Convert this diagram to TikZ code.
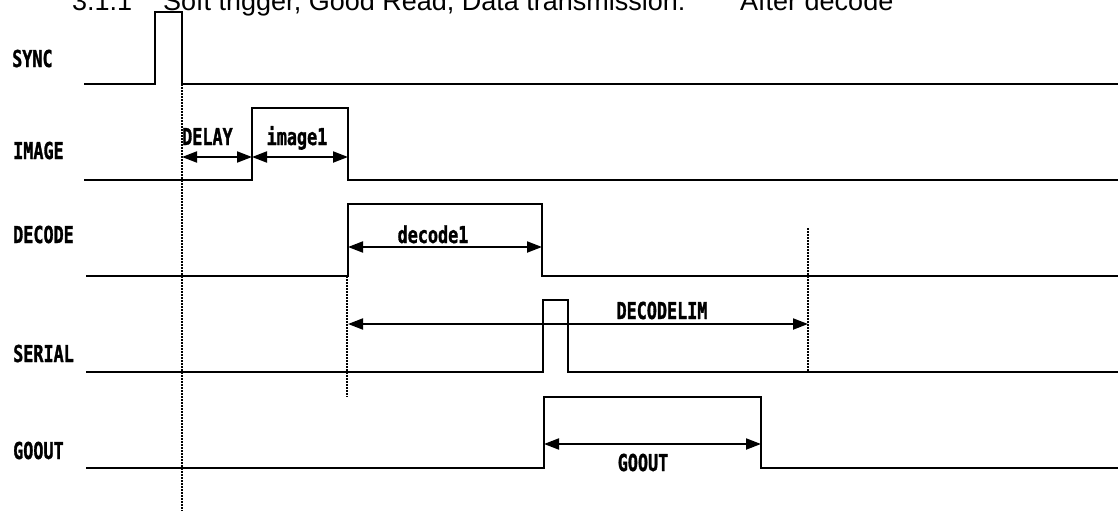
\documentclass[tikz,border=0pt]{standalone}
\usepackage{fontspec}
\setmainfont{Liberation Sans}
\newfontfamily\lblfont[FakeStretch=0.72, BoldFeatures={FakeBold=1.2}]{DejaVu Sans Mono}
\usetikzlibrary{arrows.meta}
\tikzset{
  sig/.style={line width=2pt, line join=miter},
  guide/.style={line width=1.5pt, dash pattern=on 1.5pt off 1.5pt},
  span/.style={line width=2pt, {Triangle[length=15pt,width=11pt]}-{Triangle[length=15pt,width=11pt]}},
  lblf/.style={font=\lblfont\bfseries\fontsize{23.3}{26}\selectfont},
  rowlbl/.style={lblf, anchor=base west, inner sep=0pt},
  spanlbl/.style={lblf, anchor=base, inner sep=0pt},
  ttl/.style={anchor=base west, inner sep=0pt, font=\fontsize{27}{30}\selectfont}
}
\begin{document}
\begin{tikzpicture}[x=1pt,y=-1pt]
\useasboundingbox (0,0) rectangle (1118,511);
% title (cut at top)
\node[ttl] (tnum) at (72,11) {3.1.1};
\node[ttl] (tmain) at (163,11) {Soft trigger, Good Read, Data transmission:};
\node[ttl] (tafter) at (740,11) {After decode};
% row labels
\node[rowlbl] (lsync) at (12,67) {SYNC};
\node[rowlbl] (limage) at (13,159) {IMAGE};
\node[rowlbl] (ldecode) at (13,243) {DECODE};
\node[rowlbl] (lserial) at (13,362) {SERIAL};
\node[rowlbl] (lgoout) at (13,459) {GOOUT};
% waveforms
\draw[sig] (84,84) -- (155,84) -- (155,12) -- (182,12) -- (182,84) -- (1118,84);
\draw[sig] (84,180) -- (252,180) -- (252,108) -- (348,108) -- (348,180) -- (1118,180);
\draw[sig] (86,276) -- (348,276) -- (348,204) -- (542,204) -- (542,276) -- (1118,276);
\draw[sig] (86,372) -- (543,372) -- (543,300) -- (568,300) -- (568,372) -- (1118,372);
\draw[sig] (86,468) -- (544,468) -- (544,397) -- (761,397) -- (761,468) -- (1118,468);
% guide lines
\coordinate (g1t) at (182,84); \coordinate (g1b) at (182,511);
\coordinate (g2t) at (347,276); \coordinate (g2b) at (347,397);
\coordinate (g3t) at (808,228); \coordinate (g3b) at (808,372);
\draw[guide] (g1t) -- (g1b);
\draw[guide] (g2t) -- (g2b);
\draw[guide] (g3t) -- (g3b);
% span arrows
\coordinate (dA) at (182,157); \coordinate (dB) at (252,157); \coordinate (dC) at (348,157);
\coordinate (eA) at (348,247); \coordinate (eB) at (542,247);
\coordinate (lA) at (348,324); \coordinate (lB) at (808,324);
\coordinate (oA) at (544,444); \coordinate (oB) at (761,444);
\draw[span] (dA) -- (dB);
\draw[span] (dB) -- (dC);
\draw[span] (eA) -- (eB);
\draw[span] (lA) -- (lB);
\draw[span] (oA) -- (oB);
% span labels
\node[rowlbl] (tdelay) at (182,145) {DELAY};
\node[spanlbl] (timage) at (297,145) {image1};
\node[spanlbl] (tdecode) at (433,243) {decode1};
\node[spanlbl] (tlim) at (662,319) {DECODELIM};
\node[spanlbl] (tgo) at (643,471) {GOOUT};
\end{tikzpicture}
\end{document}
